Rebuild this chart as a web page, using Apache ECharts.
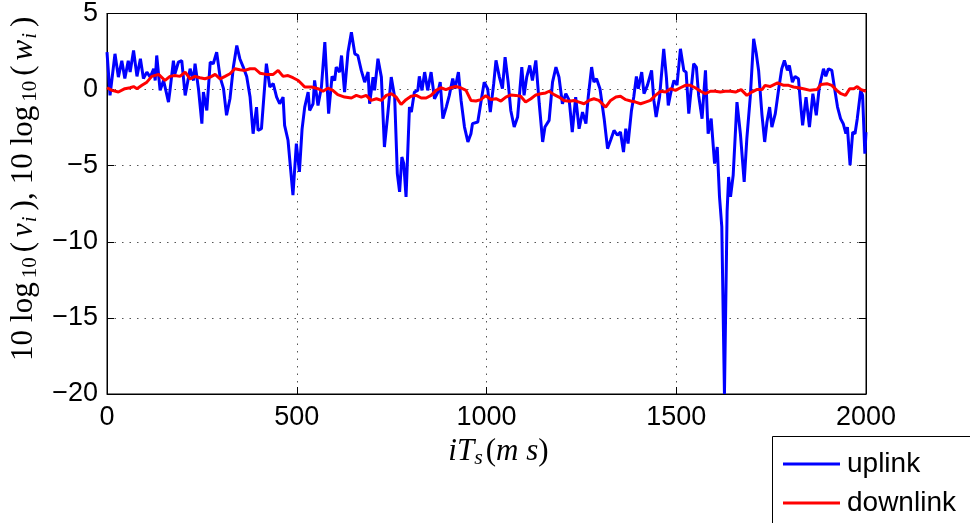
<!DOCTYPE html>
<html>
<head>
<meta charset="utf-8">
<script src="https://cdn.jsdelivr.net/npm/echarts@6/dist/echarts.min.js"></script>
<style>html,body{margin:0;padding:0;background:#fff;}#c{width:970px;height:523px;}</style>
</head>
<body>
<div id="c"></div>
<script>
const xTicks = [0, 500, 1000, 1500, 2000];
const yTicks = [-20, -15, -10, -5, 0, 5];

const uplinkT = [0,8,21,30,39,47,56,61,70,79,88,96,105,114,123,127,131,140,149,153,162,166,175,179,188,197,206,219,228,232,241,250,254,263,272,280,289,298,307,315,324,333,342,350,359,368,377,385,394,398,407,420,429,438,447,455,464,468,477,490,499,507,514,521,530,534,543,547,556,565,574,584,593,600,604,613,618,626,635,644,653,661,670,679,688,692,701,705,714,723,731,740,749,758,765,771,777,782,788,797,802,810,819,823,830,837,845,854,863,872,878,885,894,902,911,917,926,933,942,951,959,963,977,986,994,1003,1010,1019,1025,1034,1042,1049,1057,1064,1073,1082,1093,1099,1106,1114,1121,1130,1139,1148,1154,1165,1174,1183,1191,1200,1209,1218,1226,1235,1244,1253,1262,1268,1277,1283,1290,1299,1310,1319,1327,1336,1345,1353,1361,1367,1373,1382,1388,1395,1400,1409,1415,1424,1435,1441,1447,1456,1467,1474,1479,1485,1494,1502,1511,1520,1526,1533,1539,1546,1553,1559,1568,1577,1584,1592,1601,1608,1614,1620,1627,1634,1638,1643,1650,1660,1669,1679,1686,1695,1704,1711,1717,1726,1733,1739,1746,1752,1761,1770,1778,1785,1793,1798,1806,1813,1822,1828,1833,1842,1851,1860,1869,1877,1888,1894,1901,1910,1918,1925,1933,1940,1947,1951,1958,1965,1971,1977,1986,1991,1997,2000];
const uplinkV = [2.46,-0.38,2.35,0.82,1.9,0.73,1.9,1.15,2.57,0.87,2.03,0.73,1.15,0.82,1.37,0.6,2.24,-0.05,0.6,0.17,-0.82,-0.05,1.9,1.04,1.8,1.9,-0.38,1.37,0.6,1.7,0.06,-2.24,-0.16,-1.37,1.8,1.7,2.46,0.82,0.06,-1.69,-0.6,1.48,2.9,2.03,1.48,0.87,-0.49,-2.9,-1.15,-2.68,-2.57,1.7,0.17,0.39,-0.49,-0.93,-0.49,-2.35,-3.33,-6.94,-3.55,-5.41,-2.6,-1.15,-0.16,-1.37,-0.93,0.6,-1.04,0.17,3.12,-1.58,0.87,0.6,1.48,1.15,2.24,-0.16,2.46,3.77,2.35,2.24,1.26,0.49,1.15,-0.93,0.82,-0.05,2.03,0.82,-3.77,-1.58,0.82,-0.49,-5.52,-6.72,-4.43,-4.86,-7.05,-1.15,-1.48,-0.16,-0.05,0.87,-0.05,1.15,-0.05,1.15,-0.6,-0.16,0.49,-1.91,-1.15,-0.38,0.73,0.06,1.15,-0.71,-2.46,-3.44,-2.9,-2.24,-2.13,-0.71,0.49,0.06,-1.48,0.39,1.92,0.82,0.06,2.13,0.49,-1.37,-2.46,-1.8,1.48,-0.38,0.82,1.59,0.6,1.92,-0.93,-3.44,-2.46,-2.02,0.49,1.48,0.82,-0.93,-0.27,-0.71,-2.79,-0.49,-2.57,-1.48,-2.24,-0.49,1.48,0.49,0.71,0.06,-1.91,-3.88,-3.33,-2.68,-3.0,-2.79,-4.1,-2.57,-3.55,-1.37,-0.49,0.87,0.06,1.15,-0.27,0.28,1.26,-0.71,-1.8,-0.49,2.68,0.82,-1.04,-0.27,0.6,0.3,2.68,1.26,1.15,-1.58,-0.05,1.7,1.48,-0.38,-1.91,1.26,-2.9,-1.91,-4.86,-3.77,-7.05,-9.0,-20.0,-8.0,-5.74,-7.05,-5.63,-0.82,-2.9,-6.07,-3.22,-0.49,3.34,2.35,1.26,-1.69,-3.44,-2.13,-1.15,-2.46,-1.58,0.06,1.37,1.92,1.26,1.59,0.49,0.87,0.71,-1.04,-2.35,-0.49,-2.46,-0.27,-1.69,0.17,1.37,0.87,1.37,1.26,-0.05,-1.15,-1.91,-2.24,-2.9,-2.46,-4.97,-2.79,-2.9,-1.91,-0.05,-0.38,-4.21,-2.79];

const downlinkT = [0,13,30,47,61,70,79,92,105,118,136,153,166,179,192,206,219,232,245,258,272,285,298,311,324,337,350,363,377,390,403,420,438,451,464,477,490,504,514,521,539,556,569,582,595,608,626,644,657,670,683,696,710,723,736,749,762,775,788,801,815,828,841,854,867,880,893,906,919,932,946,959,972,985,998,1012,1025,1038,1051,1064,1077,1090,1103,1117,1130,1143,1156,1165,1178,1191,1204,1218,1231,1244,1257,1270,1283,1296,1305,1314,1327,1341,1353,1367,1380,1393,1406,1419,1432,1445,1459,1472,1485,1498,1511,1524,1537,1550,1564,1577,1590,1603,1616,1629,1643,1656,1671,1686,1699,1712,1726,1734,1747,1767,1783,1796,1809,1822,1835,1853,1871,1881,1897,1910,1923,1934,1946,1957,1968,1977,1987,2000];
const downlinkV = [0.12,-0.05,-0.16,0.06,0.12,0.2,0.06,0.28,0.49,0.87,1.0,0.6,0.87,0.92,0.87,1.15,0.71,0.87,0.78,0.71,0.82,1.0,0.71,0.87,1.04,1.37,1.3,1.26,1.37,1.37,1.08,1.0,1.0,1.26,0.87,0.92,0.78,0.6,0.35,0.17,0.17,0.06,-0.11,0.09,-0.05,-0.33,-0.49,-0.55,-0.38,-0.49,-0.38,-0.71,-0.6,-0.71,-0.38,-0.27,-0.49,-0.98,-0.66,-0.44,-0.38,-0.55,-0.55,-0.38,-0.05,0.12,0.0,0.12,0.2,0.12,-0.05,-0.71,-0.75,-0.66,-0.4,-0.65,-0.6,-0.75,-0.49,-0.35,-0.38,-0.44,-0.82,-0.6,-0.35,-0.27,-0.22,-0.11,-0.33,-0.49,-0.71,-0.77,-0.71,-0.82,-0.93,-0.71,-0.6,-0.71,-0.93,-1.15,-0.71,-0.49,-0.44,-0.66,-0.75,-0.82,-0.93,-0.82,-0.71,-0.38,-0.11,-0.16,0.06,-0.05,0.12,0.28,0.28,0.12,-0.11,-0.27,-0.11,-0.11,-0.16,-0.11,-0.11,-0.16,0.0,-0.38,-0.16,0.0,0.0,0.28,0.2,0.44,0.28,0.28,0.17,0.12,0.06,-0.05,0.0,0.33,0.39,0.28,-0.05,-0.27,-0.38,0.06,0.06,0.2,0.0,-0.11];

const zip = (a, b) => a.map((t, i) => [t, b[i]]);

const SANS = 'Liberation Sans, Arial, sans-serif';
const SERIF = 'Liberation Serif, DejaVu Serif, serif';
const gridDots = { show: true, lineStyle: { color: '#555', width: 1, type: [1.5, 6] } };
const tickFmt = v => (v < 0 ? '\u2212' + Math.abs(v) : String(v));

const chart = echarts.init(document.getElementById('c'), null, { renderer: 'canvas' });
chart.setOption({
  animation: false,
  backgroundColor: '#fff',
  graphic: [{
    type: 'rect', left: 772, top: 436, z: 0,
    shape: { width: 220, height: 110 },
    style: { fill: '#fff', stroke: '#000', lineWidth: 1 }
  }],
  grid: { left: 105, top: 13, right: 104, bottom: 129, show: true, borderColor: '#000', borderWidth: 1, backgroundColor: 'transparent' },
  legend: {
    orient: 'vertical', left: 783, top: 450, padding: 0, z: 5,
    itemWidth: 57, itemHeight: 3, itemGap: 11, icon: 'rect',
    textStyle: { fontFamily: SANS, fontSize: 28, color: '#000', lineHeight: 26, padding: [0, 0, 0, 2] },
    data: ['uplink', 'downlink']
  },
  xAxis: [{
    type: 'value', min: xTicks[0], max: xTicks[xTicks.length - 1], interval: 500,
    axisLine: { show: true, onZero: false, lineStyle: { color: '#000', width: 1 } },
    axisTick: { show: true, inside: true, length: 7, lineStyle: { color: '#000' } },
    axisLabel: { fontFamily: SANS, fontSize: 27, color: '#000', margin: 10, formatter: tickFmt },
    splitLine: gridDots,
    name: '{it|iT}{sub|s}{n|(}{it|m s}{n|)}', nameLocation: 'middle', nameGap: 37,
    nameTextStyle: { color: '#000', padding: [0, 0, 0, 24], rich: {
      it: { fontFamily: SERIF, fontStyle: 'italic', fontSize: 31, color: '#000' },
      sub: { fontFamily: SERIF, fontStyle: 'italic', fontSize: 22, color: '#000', padding: [14, 3, 0, 0] },
      n: { fontFamily: SERIF, fontSize: 31, color: '#000' }
    } }
  }, {
    type: 'value', position: 'top', min: xTicks[0], max: xTicks[xTicks.length - 1], interval: 500,
    axisLine: { show: true, onZero: false, lineStyle: { color: '#000' } },
    axisTick: { show: true, inside: true, length: 7, lineStyle: { color: '#000' } },
    axisLabel: { show: false }, splitLine: { show: false }
  }],
  yAxis: [{
    type: 'value', min: yTicks[0], max: yTicks[yTicks.length - 1], interval: 5,
    axisLine: { show: true, onZero: false, lineStyle: { color: '#000', width: 1 } },
    axisTick: { show: true, inside: true, length: 7, lineStyle: { color: '#000' } },
    axisLabel: { fontFamily: SANS, fontSize: 27, color: '#000', margin: 9, formatter: tickFmt },
    splitLine: gridDots,
    name: '{n|10}{n|log}{sub|10}{n|(}{it|v}{subi|i}{n|),}{n|10}{n|log}{sub|10}{n|(}{it|w}{subi|i}{n|)}',
    nameLocation: 'middle', nameRotate: 90, nameGap: 66,
    nameTextStyle: { color: '#000', padding: [0, 0, 0, 30], rich: {
      n: { fontFamily: SERIF, fontSize: 31, color: '#000', padding: [0, 4, 0, 4] },
      it: { fontFamily: SERIF, fontStyle: 'italic', fontSize: 31, color: '#000', padding: [0, 1, 0, 1] },
      sub: { fontFamily: SERIF, fontSize: 21, color: '#000', padding: [14, 1, 0, 0] },
      subi: { fontFamily: SERIF, fontStyle: 'italic', fontSize: 21, color: '#000', padding: [14, 2, 0, 0] }
    } }
  }, {
    type: 'value', position: 'right', min: yTicks[0], max: yTicks[yTicks.length - 1], interval: 5,
    axisLine: { show: true, onZero: false, lineStyle: { color: '#000' } },
    axisTick: { show: true, inside: true, length: 7, lineStyle: { color: '#000' } },
    axisLabel: { show: false }, splitLine: { show: false }
  }],
  series: [{
    name: 'uplink', type: 'line', xAxisIndex: 0, yAxisIndex: 0,
    data: zip(uplinkT, uplinkV), showSymbol: false, symbol: 'none', clip: true,
    lineStyle: { color: '#0000ff', width: 3 }, itemStyle: { color: '#0000ff' }
  }, {
    name: 'downlink', type: 'line', xAxisIndex: 0, yAxisIndex: 0,
    data: zip(downlinkT, downlinkV), showSymbol: false, symbol: 'none', clip: true,
    lineStyle: { color: '#ff0000', width: 3 }, itemStyle: { color: '#ff0000' }
  }]
});
</script>
</body>
</html>
